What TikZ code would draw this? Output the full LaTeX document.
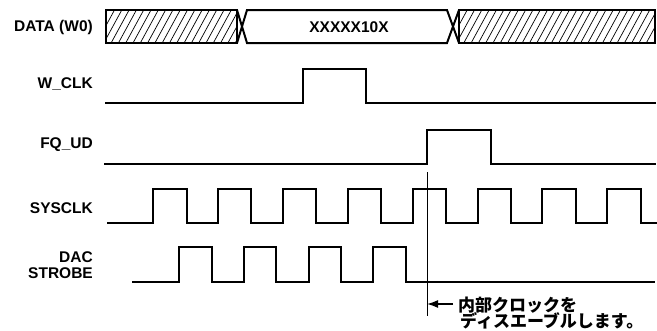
\documentclass[tikz,border=0pt]{standalone}
\usepackage{fontspec}
\setmainfont{Liberation Sans}
\newfontfamily\jp{Noto Sans CJK JP}
\usetikzlibrary{arrows.meta}
\begin{document}
\begin{tikzpicture}[x=1pt,y=-1pt,
  sig/.style={line width=2pt, line join=miter},
  hatch/.style={line width=0.7pt},
  lab/.style={font=\fontsize{15.5}{16.5}\selectfont\bfseries, anchor=east, align=right, inner sep=0pt},
  jptext/.style={font=\jp\bfseries\fontsize{17}{17}\selectfont, anchor=west, inner sep=0pt}]
\useasboundingbox (0,0) rectangle (657,330);

% labels
\node[lab] (ldata) at (93,27) {DATA (W0)};
\node[lab] (lwclk) at (93,84) {W\_CLK};
\node[lab] (lfqud) at (93,145) {FQ\_UD};
\node[lab] (lsys) at (93,208) {SYSCLK};
\node[lab] (ldac) at (93,265) {DAC\\STROBE};

% data bus hatching
\begin{scope}
  \clip (106,10) rectangle (237,43);
  \foreach \x in {60,67.3,...,260} \draw[hatch] (\x,43) -- ({\x+18},10);
\end{scope}
\begin{scope}
  \clip (459,10) rectangle (655,43);
  \foreach \x in {420,427.3,...,680} \draw[hatch] (\x,43) -- ({\x+18},10);
\end{scope}
\draw[sig] (106,10) rectangle (237,43);
\draw[sig] (459,10) rectangle (655,43);
\draw[sig] (237,10) -- (247,43) -- (447,43) -- (459,10);
\draw[sig] (237,43) -- (247,10) -- (447,10) -- (459,43);
\node[font=\fontsize{15.5}{16}\selectfont\bfseries, inner sep=0pt] (dval) at (349,27) {XXXXX10X};

% W_CLK
\draw[sig] (105,103) -- (303,103) -- (303,69) -- (366,69) -- (366,103) -- (656,103);
% FQ_UD
\draw[sig] (104,164) -- (427,164) -- (427,130) -- (491,130) -- (491,164) -- (656,164);
% SYSCLK
\draw[sig] (107,223) \foreach \k in {0,...,7}{ -- ({153+64.9*\k},223) -- ({153+64.9*\k},189) -- ({186.5+64.9*\k},189) -- ({186.5+64.9*\k},223)} -- (657,223);
% DAC STROBE
\draw[sig] (132,282) \foreach \k in {0,...,3}{ -- ({179+64.8*\k},282) -- ({179+64.8*\k},247) -- ({211.5+64.8*\k},247) -- ({211.5+64.8*\k},282)} -- (655,282);

% marker line and note
\coordinate (vtop) at (427,172);
\coordinate (vbot) at (427,316);
\draw[line width=0.8pt] (vtop) -- (vbot);
\coordinate (atip) at (427,304);
\coordinate (atail) at (453,304);
\draw[line width=1.5pt, -{Latex[length=11pt,width=8pt]}] (atail) -- (atip);
\node[jptext] (n1) at (458,305) {内部クロックを};
\node[jptext] (n2) at (460,321) {ディスエーブルします。};
\end{tikzpicture}
\end{document}
